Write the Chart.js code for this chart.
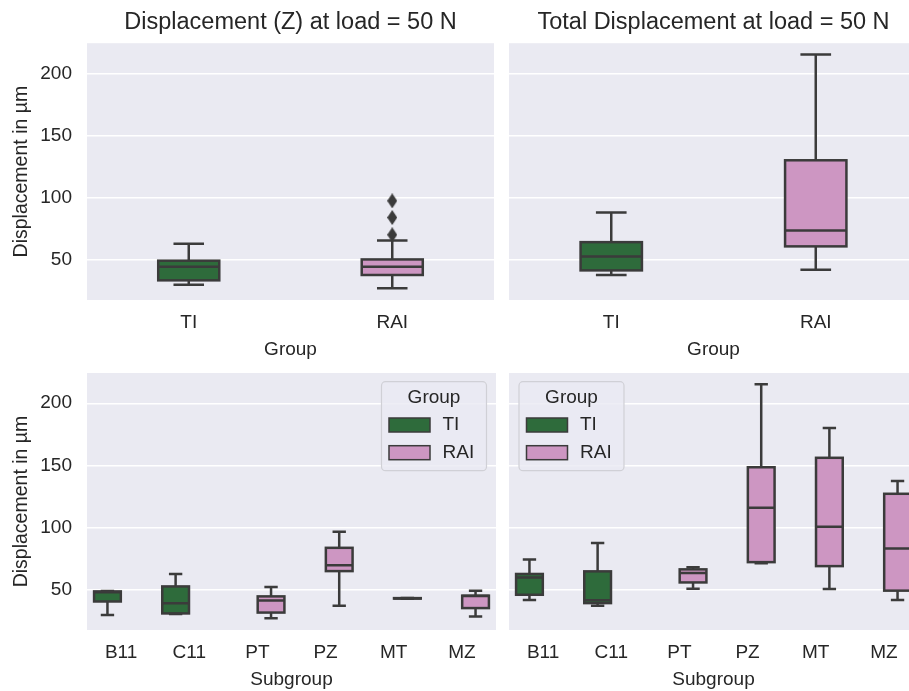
<!DOCTYPE html>
<html>
<head>
<meta charset="utf-8">
<script src="https://cdn.jsdelivr.net/npm/chart.js@4.4.0/dist/chart.umd.min.js"></script>
<style>
html, body { margin: 0; padding: 0; background: #fff; overflow: hidden; }
canvas { position: absolute; }
</style>
</head>
<body>
<canvas id="zGroup" width="500" height="365" style="left:0;top:0"></canvas>
<canvas id="totGroup" width="425" height="365" style="left:500px;top:0"></canvas>
<canvas id="zSub" width="500" height="330" style="left:0;top:365px"></canvas>
<canvas id="totSub" width="425" height="330" style="left:500px;top:365px"></canvas>
<script>
const groups = ['TI', 'RAI'];
const subgroups = ['B11', 'C11', 'PT', 'PZ', 'MT', 'MZ'];
const subgroupOwner = ['TI', 'TI', 'RAI', 'RAI', 'RAI', 'RAI'];
const yTicks = [50, 100, 150, 200];

// Displacement (Z) por grupo
const zGroupLow  = [30.2, 27.3];
const zGroupQ1   = [33.7, 38.0];
const zGroupMed  = [44.7, 44.7];
const zGroupQ3   = [49.5, 50.5];
const zGroupHigh = [63.1, 65.8];
const zGroupOut  = [97.6, 84.2, 70.3]; // outliers, todos RAI

// Total displacement por grupo
const totGroupLow  = [38.0, 42.2];
const totGroupQ1   = [41.7, 61.0];
const totGroupMed  = [52.9, 73.8];
const totGroupQ3   = [64.4, 130.2];
const totGroupHigh = [88.2, 215.3];

// Displacement (Z) por subgrupo
const zSubLow  = [29.9, 30.7, 27.3, 37.4, 43.0, 28.8];
const zSubQ1   = [40.8, 31.2, 31.9, 65.2, 43.1, 35.5];
const zSubMed  = [48.3, 39.3, 41.5, 70.0, 43.3, 45.3];
const zSubQ3   = [48.9, 52.9, 44.9, 83.9, 43.5, 45.5];
const zSubHigh = [49.3, 62.9, 52.4, 96.8, 43.6, 49.5];

// Total displacement por subgrupo
const totSubLow  = [42.0, 37.3, 51.0, 71.6, 50.8, 42.0];
const totSubQ1   = [46.2, 39.5, 56.1, 72.4, 69.2, 49.5];
const totSubMed  = [60.1, 41.8, 63.7, 116.1, 100.8, 83.4];
const totSubQ3   = [62.9, 65.0, 66.6, 148.6, 156.2, 127.3];
const totSubHigh = [74.6, 87.8, 68.2, 215.3, 180.2, 137.5];

const groupColors = { TI: '#2e6b3b', RAI: '#cd96c2' };
const lineColor = '#3b3b3b';
const textColor = '#262626';
const family = '"Liberation Sans", Arial, sans-serif';

// diamante fino para los outliers
const diamond = document.createElement('canvas');
diamond.width = 10; diamond.height = 15;
(function () {
    const c = diamond.getContext('2d');
    c.fillStyle = lineColor;
    c.beginPath();
    c.moveTo(5, 0); c.lineTo(10, 7.5); c.lineTo(5, 15); c.lineTo(0, 7.5);
    c.closePath();
    c.fill();
})();

const panelBg = {
    id: 'panelBg',
    beforeDraw(chart) {
        const a = chart.chartArea, ctx = chart.ctx;
        ctx.save();
        ctx.fillStyle = '#eaeaf2';
        ctx.fillRect(a.left, a.top, a.right - a.left, a.bottom - a.top);
        ctx.restore();
    }
};

// caja, mediana y bigotes sobre las barras flotantes
const boxParts = {
    id: 'boxParts',
    afterDatasetsDraw(chart) {
        const ctx = chart.ctx, y = chart.scales.y;
        ctx.save();
        ctx.strokeStyle = lineColor;
        ctx.lineWidth = 2.5;
        chart.data.datasets.forEach(function (ds, d) {
            if (!ds.med) return;
            chart.getDatasetMeta(d).data.forEach(function (bar, i) {
                if (ds.data[i] == null) return;
                const w = bar.width, x = bar.x;
                const yLo = y.getPixelForValue(ds.low[i]);
                const yHi = y.getPixelForValue(ds.high[i]);
                const yQ1 = y.getPixelForValue(ds.data[i][0]);
                const yQ3 = y.getPixelForValue(ds.data[i][1]);
                const yMed = y.getPixelForValue(ds.med[i]);
                ctx.beginPath();
                ctx.moveTo(x, yQ3); ctx.lineTo(x, yHi);
                ctx.moveTo(x, yQ1); ctx.lineTo(x, yLo);
                ctx.moveTo(x - w / 4, yHi); ctx.lineTo(x + w / 4, yHi);
                ctx.moveTo(x - w / 4, yLo); ctx.lineTo(x + w / 4, yLo);
                ctx.moveTo(x - w / 2, yMed); ctx.lineTo(x + w / 2, yMed);
                ctx.stroke();
                ctx.strokeRect(x - w / 2, yQ3, w, yQ1 - yQ3);
            });
        });
        ctx.restore();
    }
};

const groupLegend = {
    id: 'groupLegend',
    afterDraw(chart, args, opts) {
        if (!opts.side) return;
        const a = chart.chartArea, ctx = chart.ctx;
        const w = 105, h = 89;
        const left = opts.side === 'right' ? a.right - 9.5 - w : a.left + 10;
        const top = a.top + 8.7;
        ctx.save();
        ctx.beginPath();
        ctx.roundRect(left, top, w, h, 4);
        ctx.fillStyle = 'rgba(234,234,242,0.8)';
        ctx.fill();
        ctx.strokeStyle = '#d0d0d6';
        ctx.lineWidth = 1.2;
        ctx.stroke();
        ctx.font = '19px ' + family;
        ctx.fillStyle = textColor;
        ctx.textAlign = 'center';
        ctx.textBaseline = 'middle';
        ctx.fillText('Group', left + w / 2, top + 16.5);
        ctx.textAlign = 'left';
        groups.forEach(function (g, k) {
            const cy = top + 43.3 + k * 27.7;
            ctx.fillStyle = groupColors[g];
            ctx.fillRect(left + 7.5, cy - 7, 41, 14);
            ctx.strokeStyle = lineColor;
            ctx.lineWidth = 1.5;
            ctx.strokeRect(left + 7.5, cy - 7, 41, 14);
            ctx.fillStyle = textColor;
            ctx.fillText(g, left + 61, cy);
        });
        ctx.restore();
    }
};

function panel(id, cfg) {
    return new Chart(document.getElementById(id), {
        type: 'bar',
        data: { labels: cfg.labels, datasets: cfg.datasets },
        plugins: [panelBg, boxParts, groupLegend],
        options: {
            responsive: false,
            animation: false,
            devicePixelRatio: 1,
            layout: { padding: cfg.padding },
            plugins: {
                legend: { display: false },
                tooltip: { enabled: false },
                title: cfg.title ? {
                    display: true, text: cfg.title, color: textColor, fullSize: false,
                    font: { size: 23.5, weight: 'normal', family: family },
                    padding: { top: 8, bottom: 7 }
                } : { display: false },
                groupLegend: { side: cfg.legendSide }
            },
            scales: {
                x: {
                    grid: { display: false, drawTicks: false },
                    border: { display: false },
                    ticks: { color: textColor, font: { size: 19, family: family }, padding: 11 },
                    title: {
                        display: true, text: cfg.xTitle, color: textColor,
                        font: { size: 19, family: family }, padding: { top: 4, bottom: 4 }
                    },
                    afterFit: function (s) { s.height = 65; s.paddingLeft = 0; s.paddingRight = 0; }
                },
                y: {
                    min: 17.9,
                    max: 224.3,
                    afterBuildTicks: function (s) { s.ticks = yTicks.map(v => ({ value: v })); },
                    grid: { color: '#ffffff', lineWidth: 1.4, drawTicks: false },
                    border: { display: false },
                    ticks: { display: cfg.yLabels, color: textColor, font: { size: 19, family: family }, padding: 15 },
                    title: {
                        display: cfg.yLabels, text: 'Displacement in µm', color: textColor,
                        font: { size: 19.5, family: family }, padding: { top: 9.5, bottom: 0 }
                    },
                    afterFit: function (s) {
                        s.width = cfg.yLabels ? 87 : 9;
                        s.paddingTop = 0;
                        s.paddingBottom = 0;
                    }
                }
            }
        }
    });
}

function groupDataset(low, q1, med, q3, high) {
    return {
        data: groups.map((g, i) => [q1[i], q3[i]]),
        low: low, med: med, high: high,
        backgroundColor: groups.map(g => groupColors[g]),
        borderWidth: 0,
        categoryPercentage: 0.8,
        barPercentage: 0.375
    };
}

function subDatasets(low, q1, med, q3, high) {
    return groups.map(function (g) {
        return {
            label: g,
            data: subgroups.map((s, i) => subgroupOwner[i] === g ? [q1[i], q3[i]] : null),
            low: low, med: med, high: high,
            backgroundColor: groupColors[g],
            borderWidth: 0,
            categoryPercentage: 0.8,
            barPercentage: 0.98
        };
    });
}

panel('zGroup', {
    labels: groups,
    title: 'Displacement (Z) at load = 50 N',
    xTitle: 'Group',
    yLabels: true,
    padding: { left: 0, right: 4, top: 0, bottom: 0 },
    datasets: [
        groupDataset(zGroupLow, zGroupQ1, zGroupMed, zGroupQ3, zGroupHigh),
        {
            type: 'line',
            data: zGroupOut.map(v => ({ x: 'RAI', y: v })),
            showLine: false,
            pointStyle: diamond,
            pointRadius: 5
        }
    ]
});

panel('totGroup', {
    labels: groups,
    title: 'Total Displacement at load = 50 N',
    xTitle: 'Group',
    yLabels: false,
    padding: { left: 0, right: 7, top: 0, bottom: 0 },
    datasets: [groupDataset(totGroupLow, totGroupQ1, totGroupMed, totGroupQ3, totGroupHigh)]
});

panel('zSub', {
    labels: subgroups,
    xTitle: 'Subgroup',
    yLabels: true,
    legendSide: 'right',
    padding: { left: 0, right: 4, top: 8, bottom: 0 },
    datasets: subDatasets(zSubLow, zSubQ1, zSubMed, zSubQ3, zSubHigh)
});

panel('totSub', {
    labels: subgroups,
    xTitle: 'Subgroup',
    yLabels: false,
    legendSide: 'left',
    padding: { left: 0, right: 7, top: 8, bottom: 0 },
    datasets: subDatasets(totSubLow, totSubQ1, totSubMed, totSubQ3, totSubHigh)
});
</script>
</body>
</html>
